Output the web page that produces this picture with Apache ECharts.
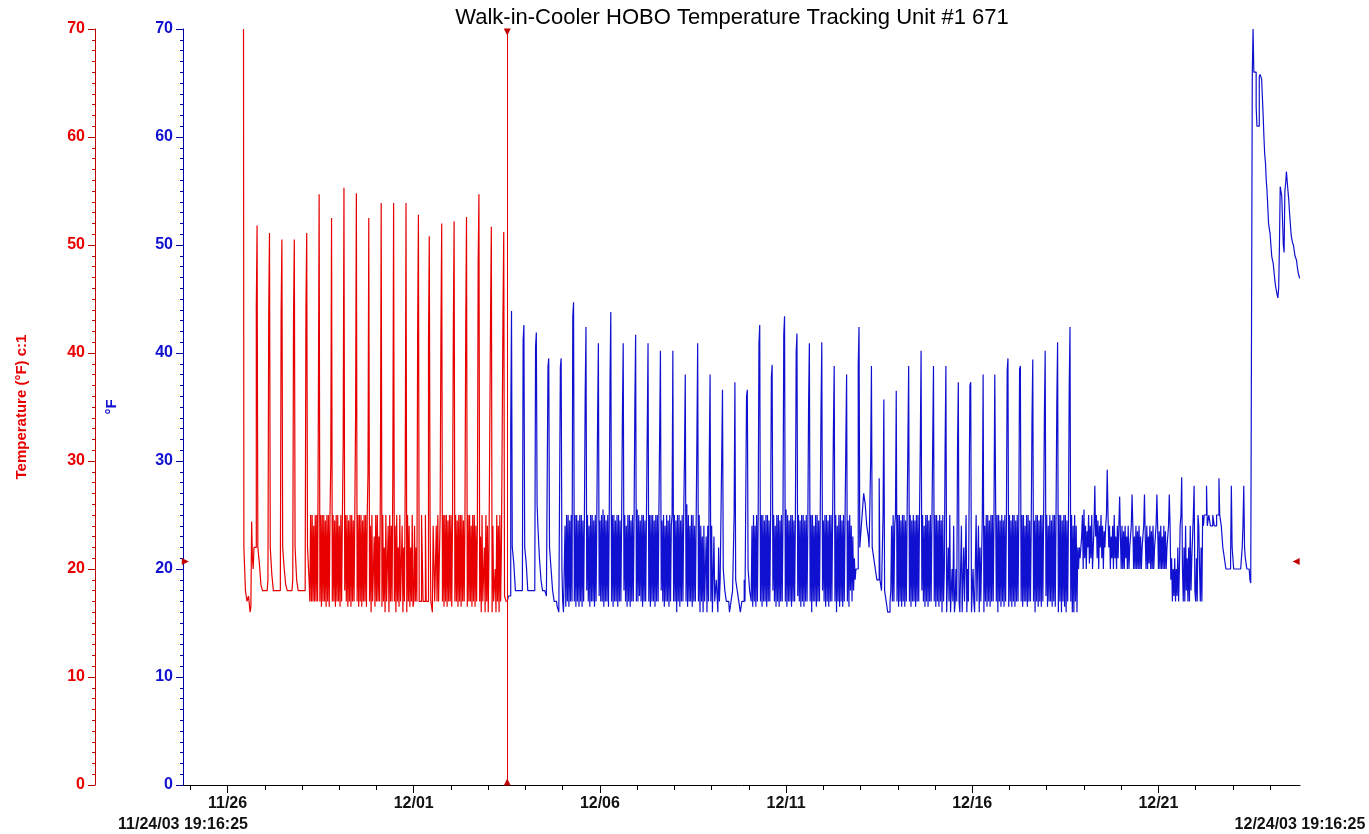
<!DOCTYPE html>
<html>
<head>
<meta charset="utf-8">
<title>Walk-in-Cooler HOBO Temperature Tracking</title>
<script src="https://cdn.jsdelivr.net/npm/echarts@6/dist/echarts.min.js"></script>
<style>
  html, body { margin: 0; padding: 0; background: #fff; }
  #chart { width: 1369px; height: 834px; }
</style>
</head>
<body>
<div id="chart"></div>
<script>
// logger launch; the axis covers exactly 30 days from here
const startStamp = Date.UTC(2003, 10, 24, 19, 16, 25)
const spanHours = 720
const startLabel = '11/24/03 19:16:25'
const endLabel = '12/24/03 19:16:25'

// labelled ticks on the date axis
const tickDates = ['2003-11-26', '2003-12-01', '2003-12-06', '2003-12-11', '2003-12-16', '2003-12-21']
const tickLabels = ['11/26', '12/01', '12/06', '12/11', '12/16', '12/21']

// readings every 30 min (°F). red = left of the cursor, blue = right of it
// two lines per defrost cycle (about every 8 h)
const sampleHours = 0.5
const redStartHour = 39
const redValues = [
  70, 22, 22, 18, 17.5, 17, 17, 17.5,
  17.5, 16, 16.5, 24.4, 21, 20, 22, 22,
  22, 44.2, 51.8, 22, 22, 20.5, 20.5, 18.5,
  18.5, 18, 18, 18, 18, 18, 18, 18,
  19, 43.8, 51.1, 22, 22, 19.5, 19.5, 18,
  18, 18, 18, 18, 18, 18, 18, 18,
  19, 43.8, 50.5, 22, 22, 20, 20, 18.5,
  18.5, 18, 18, 18, 18, 18, 18, 18,
  19, 43.5, 50.5, 22, 22, 19, 19, 18,
  18, 18, 18, 18, 18, 18, 18, 18,
  19, 44.2, 51.1, 22, 22, 19, 17, 25,
  17, 25, 17, 24, 17, 25, 17, 25,
  17, 34.7, 54.7, 17, 25, 16.5, 25, 17,
  25, 17, 24.5, 16.5, 25, 17, 25, 16.5,
  25, 29.8, 52.5, 17, 25, 17, 24.5, 16.5,
  25, 17, 25, 17, 24, 16.5, 25, 17,
  25, 31.5, 55.3, 18, 25, 17, 25, 16.5,
  24.5, 17, 25, 16.5, 25, 17, 24.5, 17,
  25, 34.3, 54.8, 17, 25, 16.5, 25, 17,
  25, 16.5, 24.5, 17, 25, 17, 25, 16.5,
  25, 28.9, 52.5, 17, 24, 16, 25, 17,
  17, 23, 16.5, 25, 17, 25, 17, 23,
  17, 28.4, 53.9, 16.5, 25, 17, 22, 16,
  25, 17, 17, 24, 16, 25, 17, 24,
  17, 28.4, 53.9, 17, 24, 16, 25, 17,
  22, 16.5, 25, 17, 17, 24, 16, 22,
  17, 28.4, 53.9, 16, 25, 17, 24, 16.5,
  22, 17, 25, 16.5, 17, 24, 17, 22,
  17, 42.4, 52.8, 17, 17, 17, 25, 25,
  17, 17, 17, 25, 17, 17,
  17, 41, 50.8, 25, 17, 17, 16, 24,
  24, 17, 17, 24, 17, 25, 17, 17,
  25, 41.8, 52.0, 17, 25, 16.5, 25, 17,
  25, 16.5, 24.5, 17, 25, 17, 25, 16.5,
  25, 42.1, 52.2, 17, 25, 17, 24.5, 16.5,
  25, 17, 25, 16.5, 25, 17, 24.5, 17,
  25, 42.4, 52.6, 16.5, 25, 17, 25, 17,
  24, 16.5, 25, 17, 25, 16.5, 24, 17,
  24, 48.3, 54.7, 17, 23, 16, 25, 17,
  17, 22, 16, 25, 17, 24, 16, 22,
  22, 43.8, 51.7, 16, 24, 17, 17, 20,
  16, 25, 17, 24, 16, 25, 17, 22,
  22, 43.5, 51.2, 17.5, 17.5, 17, 17
]

const blueStartHour = 209
const blueValues = [
  17, 17, 17.5, 17.5,
  17.5, 33.2, 43.9, 22, 22, 20.5, 20.5, 18,
  18, 18, 18, 18, 18, 18, 18, 18,
  18, 41.2, 42.6, 22, 22, 20.5, 20.5, 18,
  18, 18, 18, 18, 18, 18, 18, 18,
  18, 40.6, 41.9, 26, 24, 24, 21, 21,
  19, 19, 18, 18, 18, 18, 18, 17.5,
  17.5, 38.7, 39.5, 22, 22, 20, 20, 18,
  18, 17, 17, 17, 17, 16.5, 16.5, 16,
  16, 38.7, 39.5, 20, 17, 16, 16, 24,
  16.5, 25, 17, 25, 16.5, 24.5, 17, 25,
  17, 43.4, 44.7, 17, 25, 16.5, 25, 17,
  24.5, 16.5, 25, 17, 25, 16.5, 24.5, 17,
  25, 36.1, 42.4, 18, 25, 17, 24, 16.5,
  25, 17, 25, 17, 24.5, 16.5, 25, 17,
  25, 34.1, 40.9, 17.5, 24.5, 17, 25, 17,
  25.5, 16.5, 25, 17, 24.5, 17, 25, 16.5,
  25, 37.5, 43.8, 17, 25, 16.5, 25, 17,
  24.5, 17, 25, 16.5, 25, 17, 24.5, 17,
  25, 34.4, 40.9, 18, 25, 17, 24, 16.5,
  25, 17, 25, 16.5, 24.5, 17, 25, 17,
  24.5, 35.0, 41.7, 17, 25.5, 17, 25, 17.5,
  24.5, 17, 25, 16.5, 25, 17, 24.5, 17,
  25, 25, 40.9, 17, 25, 16.5, 25, 17,
  25, 17, 24.5, 16.5, 25, 17, 25, 17,
  25, 25, 40.2, 18, 24.5, 17, 25, 16.5,
  24, 17, 25, 17, 24.5, 16.5, 25, 17,
  24, 25, 40.2, 17, 25, 17, 24.5, 16,
  25, 17, 25, 16.5, 24.5, 17, 25, 17,
  25, 30.4, 38.0, 17, 26, 16.5, 25, 17,
  24, 17, 25, 16.5, 25, 17, 24, 17,
  24, 31.9, 40.9, 17, 25, 16, 24, 17,
  23, 16, 24, 17, 17, 23, 16, 24,
  17, 30.7, 38.0, 17, 24, 16, 16, 23,
  17, 17, 19, 19, 16, 22, 17, 19,
  19, 30.4, 36.6, 20, 20, 18, 18, 17,
  17, 17, 17, 16, 16, 17, 17, 18,
  18, 25, 37.3, 19, 19, 18, 18, 17,
  17, 16, 16, 17, 17, 17, 19, 17,
  17, 36, 36.6, 20, 20, 18, 18, 17,
  24, 16.5, 25, 17, 24, 16.5, 25, 17,
  25, 40.9, 42.6, 17, 25, 16.5, 25, 17,
  24.5, 17, 25, 16.5, 25, 17, 24.5, 17,
  24.5, 37.8, 38.9, 18, 25, 17, 24, 16.5,
  25, 17, 25, 16.5, 24.5, 17, 25, 17,
  25, 41.7, 43.4, 17, 25.5, 16.5, 25, 17,
  24.5, 17, 25, 16.5, 25, 17, 24.5, 17,
  25, 40.1, 41.8, 17.5, 25, 17, 24.5, 16.5,
  25, 17, 25, 16.5, 24.5, 17, 25, 17,
  24, 35.4, 40.9, 17, 25, 16, 25, 17,
  24, 17, 25, 16.5, 25, 17, 24.5, 17,
  25, 34.7, 41.0, 18, 24.5, 17, 25, 16.5,
  25, 17, 24.5, 16.5, 25, 17, 25, 17,
  25, 32.9, 38.8, 17, 25, 16, 24, 17,
  25, 16.5, 25, 17, 24.5, 16.5, 25, 17,
  24.5, 31.6, 38.0, 17, 24.5, 16.5, 25, 18,
  24, 17, 23, 18, 21, 19, 20, 20,
  20, 38.9, 42.4, 22, 22, 24, 25, 26,
  27, 27, 26, 25, 24, 23.5, 23, 22,
  22, 30, 38.8, 22, 22, 21, 21, 20,
  20, 19, 19, 19, 28.4, 19, 18.5, 18,
  18, 25, 35.7, 18, 18, 17, 17, 16,
  16, 16, 17, 18, 24, 17, 25, 17,
  24, 25, 36.5, 17, 25, 16.5, 25, 17,
  24.5, 16.5, 25, 17, 25, 16.5, 24.5, 17,
  25, 31.6, 38.8, 17, 25, 16.5, 24.5, 17,
  25, 17, 24.5, 16.5, 25, 17, 25, 17,
  25, 31.6, 40.2, 18, 25, 17, 24, 16.5,
  25, 17, 25, 16.5, 24.5, 17, 25, 17,
  24.5, 31.6, 38.8, 17, 25, 16.5, 25, 17,
  24.5, 16.5, 25, 17, 24.5, 16, 25, 17,
  20, 31.3, 38.8, 16, 16, 22, 17, 25,
  16, 16, 20, 17, 24, 16, 17, 20,
  17, 31.3, 37.3, 17, 16, 16, 24, 16,
  16, 22, 17, 17, 25, 16, 20, 17,
  17, 37, 37.3, 16, 16, 20, 17, 16,
  16, 25, 17, 17, 24, 16, 22, 17,
  17, 25, 38.0, 16, 24, 17, 25, 16.5,
  25, 17, 24.5, 16.5, 25, 17, 25, 17,
  25, 38, 38.0, 17, 25, 16, 25, 17,
  24.5, 16.5, 25, 17, 24.5, 16.5, 25, 17,
  24.5, 38.4, 39.5, 16.5, 25, 17, 24.5, 16.5,
  25, 17, 25, 16.5, 24.5, 17, 25, 17,
  25, 38.5, 38.8, 17, 25, 16.5, 25, 17,
  24, 17, 25, 16.5, 25, 17, 24.5, 17,
  24, 33.8, 39.4, 17, 24.5, 16, 25, 17,
  25, 16.5, 24.5, 17, 25, 16.5, 25, 17,
  25, 34.4, 40.2, 17.5, 25, 16.5, 24, 17,
  25, 17, 24.5, 16.5, 25, 17, 25, 16.5,
  25, 35.4, 41.0, 16, 25, 17, 25, 16,
  24.5, 17, 25, 16.5, 25, 16, 24.5, 17,
  24.5, 36.9, 42.4, 17, 25, 16, 24, 16,
  25, 17, 24, 16, 22, 20, 22, 21,
  22, 23, 25, 20, 25.5, 21, 24, 20,
  23.5, 22, 25, 20.5, 24, 21, 25, 20,
  22, 24, 27.7, 23, 25, 21, 24.5, 20,
  24, 22, 25, 21, 24, 20, 23.5, 22,
  24, 25, 29.2, 25, 22, 24, 20, 23,
  21, 24, 20, 25, 21, 23, 20, 24,
  21, 24, 26.7, 23, 20, 24, 20, 23.5,
  20, 24, 21, 23, 20, 24, 20, 22,
  22, 24, 26.9, 24, 20, 23, 20, 24,
  20, 23.5, 20, 24, 20, 23, 20, 22,
  22, 24, 26.9, 23, 20, 24, 20, 23,
  20.5, 24, 20, 23.5, 20, 24, 20, 22,
  23, 24, 26.9, 24, 20, 23.5, 20, 24,
  20, 23, 20, 24, 20, 23.5, 20, 22,
  22, 24, 26.9, 24, 19, 21, 17, 20,
  17.5, 21, 17, 20, 17.5, 22, 17, 20,
  24, 25, 28.5, 20, 17, 22, 17, 24,
  18, 21, 17, 22, 17, 24, 18, 21,
  23, 25, 27.7, 18, 17, 21, 17, 25,
  24, 20, 17, 22, 17, 25, 24, 25,
  25, 25, 27.7, 24, 24, 25, 25, 24,
  24, 24, 25, 25, 24, 24, 24, 25,
  25, 25, 28.4, 25, 25, 24, 24, 22,
  22, 21, 21, 20, 20, 20, 20, 20,
  20, 21, 27.7, 22, 22, 20, 20, 20,
  20, 20, 20, 20, 20, 20, 20, 20,
  22, 24, 27.7, 22, 21, 21, 20, 20,
  20, 20, 19, 18.7, 18.7, 66, 70, 66,
  66, 66, 62.8, 61, 61, 61, 65.6, 65.8, 65.8, 65.4,
  65.4, 62, 60, 58.4, 57.6, 56, 55, 53.5, 52, 51.5,
  51, 50, 49, 48.6, 48.3, 47.5, 46.8, 46.2, 45.8, 45.4,
  45.1, 46, 50, 55.4, 55.4, 54.5, 54.5, 50, 49.3, 55,
  55.7, 56.8, 56.8, 55, 54.2, 53, 52, 51, 50.5, 50.2,
  50, 49.5, 49, 48.8, 48.6, 48, 47.5, 47.2, 46.9
]

// cursor position (vertical) and level markers (horizontal)
const cursorHour = 209
const cursorLevel = 20.7

const fontFamily = '"Liberation Sans", Arial, sans-serif'
const redColor = '#e80000'
const blueColor = '#1010d0'

function hoursFromStart(isoDate) {
  return (Date.parse(isoDate + 'T00:00:00Z') - startStamp) / 3600000
}

const majorTicks = tickDates.map(hoursFromStart)
const labelByHour = {}
majorTicks.forEach((h, i) => { labelByHour[h.toFixed(3)] = tickLabels[i] })

// a small tick at every midnight
const dayTicks = []
for (let h = hoursFromStart('2003-11-25'); h < spanHours; h += 24) dayTicks.push(h)

function toPairs(startHour, values) {
  return values.map((v, i) => [startHour + i * sampleHours, v])
}

const chart = echarts.init(document.getElementById('chart'))

const baseX = {
  type: 'value', min: 0, max: spanHours, position: 'bottom',
  splitLine: { show: false }
}

chart.setOption({
  animation: false,
  backgroundColor: '#fff',
  title: {
    text: 'Walk-in-Cooler HOBO Temperature Tracking Unit #1 671',
    left: 727, top: 2, textAlign: 'center',
    textStyle: { fontFamily, fontSize: 22, fontWeight: 'normal', color: '#000' }
  },
  grid: { left: 183, right: 69, top: 29, bottom: 49 },
  xAxis: [
    Object.assign({}, baseX, {
      axisLine: { show: true, onZero: false, lineStyle: { color: '#000', width: 1 } },
      axisTick: { show: true, length: 5, customValues: dayTicks, lineStyle: { color: '#000' } },
      axisLabel: { show: false }
    }),
    Object.assign({}, baseX, {
      axisLine: { show: false, onZero: false },
      axisTick: { show: true, length: 8, customValues: majorTicks, lineStyle: { color: '#000' } },
      axisLabel: {
        show: true, customValues: majorTicks, margin: 11,
        fontFamily, fontSize: 16, fontWeight: 'bold', color: '#111',
        formatter: v => labelByHour[v.toFixed(3)] || ''
      }
    }),
    Object.assign({}, baseX, {
      axisLine: { show: false, onZero: false },
      axisTick: { show: false },
      axisLabel: {
        show: true, customValues: [0, spanHours], margin: 32,
        showMinLabel: true, showMaxLabel: true,
        fontFamily, fontSize: 16, fontWeight: 'bold', color: '#111',
        formatter: v => (v === 0 ? startLabel : endLabel)
      }
    })
  ],
  yAxis: [
    {
      type: 'value', min: 0, max: 70, interval: 10, position: 'left', offset: 0,
      name: '°F', nameLocation: 'middle', nameRotate: 90, nameGap: 64,
      nameTextStyle: { fontFamily, fontSize: 15, fontWeight: 'bold', color: blueColor },
      axisLine: { show: true, onZero: false, lineStyle: { color: '#0000a8', width: 1 } },
      axisTick: { show: true, length: 7, lineStyle: { color: '#0000a8' } },
      minorTick: { show: true, splitNumber: 10, length: 3, lineStyle: { color: '#0000a8' } },
      axisLabel: { fontFamily, fontSize: 16, fontWeight: 'bold', color: blueColor, margin: 10 },
      splitLine: { show: false }
    },
    {
      type: 'value', min: 0, max: 70, interval: 10, position: 'left', offset: 88,
      name: 'Temperature (°F) c:1', nameLocation: 'middle', nameRotate: 90, nameGap: 66,
      nameTextStyle: { fontFamily, fontSize: 15, fontWeight: 'bold', color: redColor },
      axisLine: { show: true, onZero: false, lineStyle: { color: '#c00000', width: 1 } },
      axisTick: { show: true, length: 7, lineStyle: { color: '#c00000' } },
      minorTick: { show: true, splitNumber: 10, length: 3, lineStyle: { color: '#c00000' } },
      axisLabel: { fontFamily, fontSize: 16, fontWeight: 'bold', color: redColor, margin: 10 },
      splitLine: { show: false }
    }
  ],
  series: [
    {
      name: 'after cursor',
      type: 'line', xAxisIndex: 0, yAxisIndex: 0,
      step: 'middle', showSymbol: false, z: 2,
      lineStyle: { color: blueColor, width: 1.2 },
      data: toPairs(blueStartHour, blueValues)
    },
    {
      name: 'before cursor',
      type: 'line', xAxisIndex: 0, yAxisIndex: 1,
      step: 'middle', showSymbol: false, z: 3,
      lineStyle: { color: redColor, width: 1.2 },
      data: toPairs(redStartHour, redValues),
      markLine: {
        silent: true, symbol: 'none', animation: false,
        label: { show: false },
        lineStyle: { color: redColor, width: 1, type: 'solid' },
        data: [{ xAxis: cursorHour }]
      },
      markPoint: {
        silent: true, symbol: 'triangle', symbolSize: 7,
        label: { show: false },
        itemStyle: { color: '#c00000' },
        data: [
          { coord: [cursorHour, 70], symbolRotate: 180, symbolOffset: [0, 3] },
          { coord: [cursorHour, 0], symbolOffset: [0, -3] },
          { coord: [1.5, cursorLevel], symbolRotate: -90 },
          { coord: [spanHours - 2.5, cursorLevel], symbolRotate: 90 }
        ]
      }
    }
  ]
})
</script>
</body>
</html>
